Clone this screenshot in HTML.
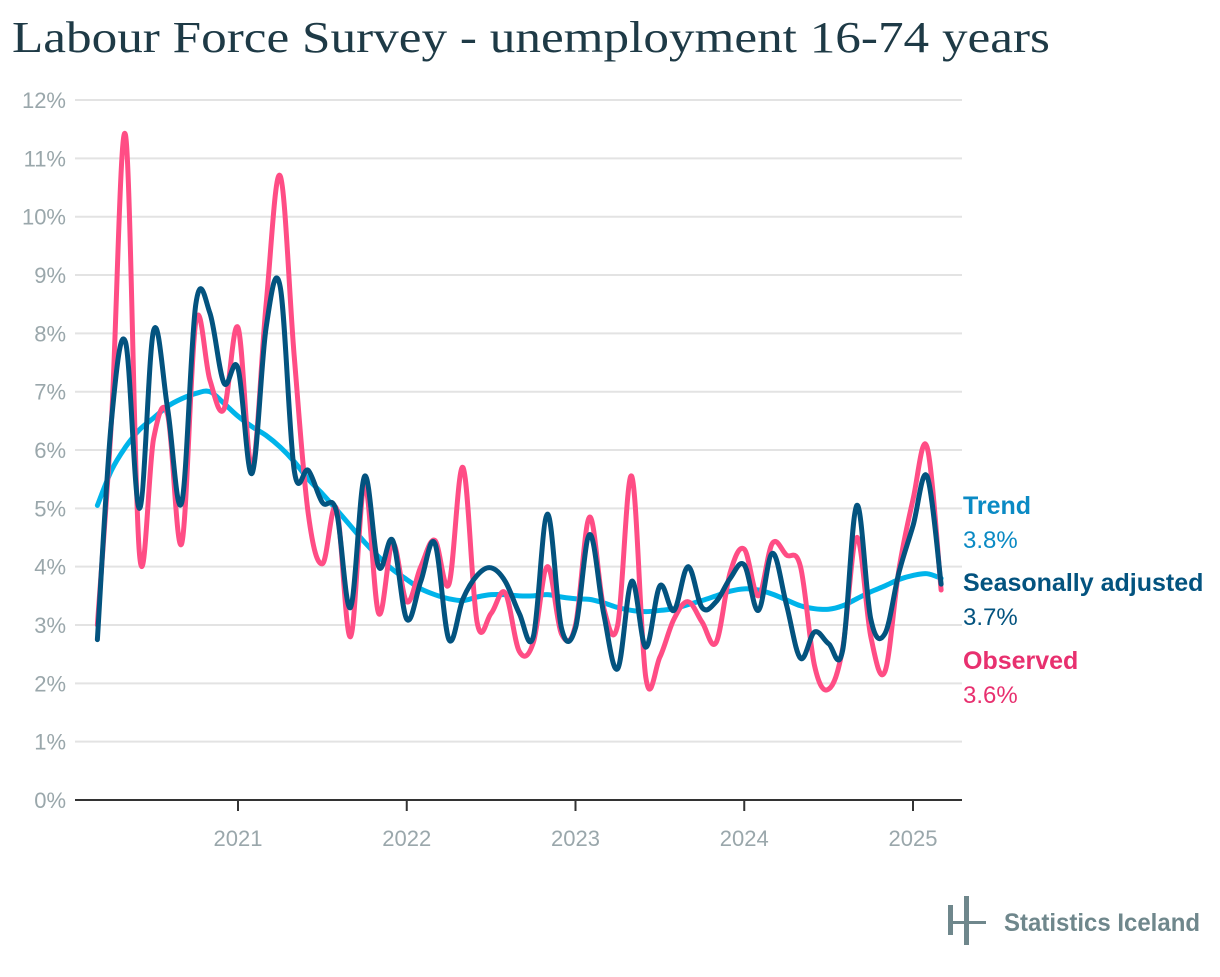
<!DOCTYPE html>
<html><head><meta charset="utf-8"><style>
body{margin:0;background:#fff;width:1220px;height:972px;overflow:hidden}
svg text{font-family:"Liberation Sans",sans-serif}
</style></head><body>
<svg id="chart" width="1220" height="972">
<text x="12" y="52" font-size="44" fill="#1e3a46" textLength="1038" lengthAdjust="spacingAndGlyphs" style="font-family:'Liberation Serif',serif">Labour Force Survey - unemployment 16-74 years</text>
<g id="grid"></g><g id="yticks"></g><g id="xaxis"></g><g id="series"></g><g id="legend"></g>
<g>
<rect x="948" y="905" width="5" height="30" fill="#6f878c"/>
<rect x="964" y="896" width="5" height="49" fill="#6f878c"/>
<rect x="948" y="921" width="38" height="3" fill="#6f878c"/>
<text x="1004" y="931" font-size="25" font-weight="bold" fill="#6f878c" textLength="196" lengthAdjust="spacingAndGlyphs">Statistics Iceland</text>
</g>
</svg>
<script>
const yTicks=[0,1,2,3,4,5,6,7,8,9,10,11,12];
const yearLabels=[2021,2022,2023,2024,2025];
const startYear=2020, startMonth=3;
const observed=[3.0,6.5,11.4,4.2,6.2,6.6,4.4,8.2,7.2,6.7,8.1,5.7,8.5,10.7,7.6,4.9,4.05,5.0,2.8,5.4,3.2,4.4,3.4,4.0,4.45,3.7,5.7,3.05,3.2,3.55,2.55,2.7,4.0,2.85,3.0,4.85,3.3,3.0,5.55,2.1,2.45,3.1,3.4,3.05,2.7,3.9,4.3,3.5,4.4,4.2,4.0,2.3,1.9,2.6,4.5,2.8,2.2,3.95,5.15,6.05,3.6];
const seasonal=[2.75,6.5,7.85,5.0,8.05,6.7,5.1,8.5,8.35,7.15,7.4,5.6,8.1,8.8,5.65,5.65,5.1,4.95,3.3,5.55,4.0,4.45,3.1,3.75,4.4,2.75,3.45,3.85,3.98,3.75,3.2,2.8,4.9,2.95,2.95,4.55,3.2,2.25,3.75,2.62,3.67,3.25,4.0,3.3,3.4,3.8,4.03,3.25,4.23,3.35,2.43,2.88,2.68,2.57,5.05,3.1,2.85,3.9,4.7,5.55,3.7];
const trend=[5.05,5.65,6.05,6.35,6.55,6.75,6.88,6.97,7.0,6.8,6.58,6.4,6.25,6.05,5.8,5.5,5.25,4.98,4.7,4.42,4.17,3.95,3.78,3.62,3.52,3.45,3.42,3.48,3.52,3.52,3.5,3.5,3.52,3.48,3.45,3.44,3.38,3.3,3.25,3.23,3.25,3.28,3.35,3.42,3.5,3.58,3.62,3.6,3.53,3.43,3.33,3.28,3.27,3.33,3.45,3.57,3.67,3.78,3.85,3.88,3.8];
const NS='http://www.w3.org/2000/svg';
const L=75,R=962,Y0=800,PY=58.33;
const y=v=>Y0-v*PY;
const xYear=t=>238+(t-2021)*168.75;
const xi=i=>xYear(startYear+(startMonth-1+i)/12);
function mk(tag,attrs,parent){const e=document.createElementNS(NS,tag);for(const k in attrs)e.setAttribute(k,attrs[k]);parent.appendChild(e);return e;}
const grid=document.getElementById('grid'),yt=document.getElementById('yticks'),xa=document.getElementById('xaxis'),ser=document.getElementById('series'),lg=document.getElementById('legend');
yTicks.forEach(v=>{
 if(v>0){const g=mk('line',{x1:L,x2:R,y1:y(v),y2:y(v),stroke:'#e3e3e3','stroke-width':2},grid);
 
 }
 const t=mk('text',{x:66,y:y(v)+8,'text-anchor':'end','font-size':22,fill:'#9aa7ab'},yt);
 t.textContent=v+'%';
 
 
});
const ax=mk('line',{x1:L,x2:R,y1:Y0,y2:Y0,stroke:'#333','stroke-width':2},xa);


yearLabels.forEach(yr=>{
 const X=xYear(yr);
 const tk=mk('line',{x1:X,x2:X,y1:Y0,y2:Y0+11,stroke:'#333','stroke-width':2},xa);
 
 
 const t=mk('text',{x:X,y:846,'text-anchor':'middle','font-size':22,fill:'#9aa7ab'},xa);
 t.textContent=yr;
 
 
});
function path(vals){
 const p=vals.map((v,i)=>[xi(i),y(v)]);
 let d='M'+p[0][0]+','+p[0][1];
 const k=0.35;
 for(let i=0;i<p.length-1;i++){
  const p0=p[Math.max(0,i-1)],p1=p[i],p2=p[i+1],p3=p[Math.min(p.length-1,i+2)];
  const c1=[p1[0]+(p2[0]-p0[0])*k/2,p1[1]+(p2[1]-p0[1])*k/2];
  const c2=[p2[0]-(p3[0]-p1[0])*k/2,p2[1]-(p3[1]-p1[1])*k/2];
  d+=' C'+c1[0]+','+c1[1]+' '+c2[0]+','+c2[1]+' '+p2[0]+','+p2[1];
 }
 return d;
}
const trendPath=mk('path',{d:path(trend),fill:'none',stroke:'#00b4ea','stroke-width':5,'stroke-linejoin':'round','stroke-linecap':'round'},ser);


const obsPath=mk('path',{d:path(observed),fill:'none',stroke:'#ff4d85','stroke-width':5,'stroke-linejoin':'round','stroke-linecap':'round'},ser);


const saPath=mk('path',{d:path(seasonal),fill:'none',stroke:'#03537f','stroke-width':5,'stroke-linejoin':'round','stroke-linecap':'round'},ser);


const leg=[['Trend',trend,'#0a8ac4',514],['Seasonally adjusted',seasonal,'#03537f',591],['Observed',observed,'#e8306f',669]];
leg.forEach(([n,arr,c,yy])=>{
 const a=mk('text',{x:963,y:yy,'font-size':25,'font-weight':'bold',fill:c},lg);
 a.textContent=n;
 
 
 const b=mk('text',{x:963,y:yy+34,'font-size':24,fill:c},lg);
 b.textContent=arr[arr.length-1].toFixed(1)+'%';
 
 
});
</script>
</body></html>
